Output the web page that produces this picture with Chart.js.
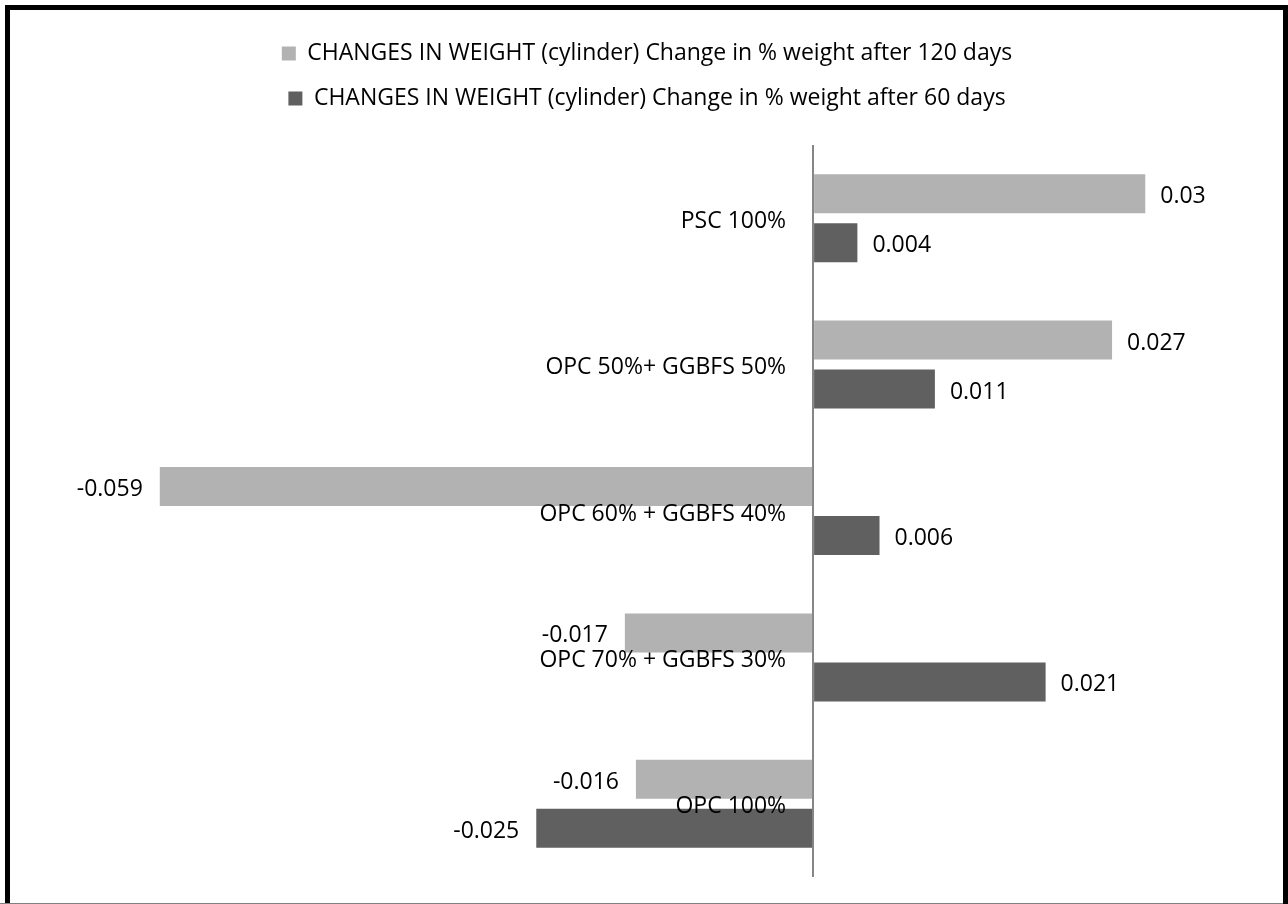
<!DOCTYPE html>
<html>
<head>
<meta charset="utf-8">
<title>Changes in weight (cylinder)</title>
<script src="https://cdn.jsdelivr.net/npm/chart.js@4/dist/chart.umd.min.js"></script>
<style>
  html, body { margin: 0; padding: 0; background: #fff; width: 1288px; height: 904px; overflow: hidden; }
  #c { position: absolute; left: 0; top: 0; }
  #frame { position: absolute; left: 5px; top: 5px; width: 1283px; height: 910px; box-sizing: border-box; border: 5px solid #000; pointer-events: none; }
  #base { position: absolute; left: 0; top: 903px; width: 1283px; height: 1px; background: #808080; }
</style>
</head>
<body>
<canvas id="c" width="1288" height="904"></canvas>
<div id="frame"></div>
<div id="base"></div>
<script>
// Mix designs, top to bottom
const categories = [
  'PSC 100%',
  'OPC 50%+ GGBFS 50%',
  'OPC 60% + GGBFS 40%',
  'OPC 70% + GGBFS 30%',
  'OPC 100%'
];

const seriesNames = [
  'CHANGES IN WEIGHT (cylinder) Change in % weight after 120 days',
  'CHANGES IN WEIGHT (cylinder) Change in % weight after 60 days'
];

// Change in % weight
const weight120 = [0.03, 0.027, -0.059, -0.017, -0.016];
const weight60 = [0.004, 0.011, 0.006, 0.021, -0.025];

// Value axis range
const axisMin = -0.07;
const axisMax = 0.04;
const axisStep = 0.01;

const FONT = '"Open Sans", "DejaVu Sans", sans-serif';
Chart.defaults.font.family = FONT;
Chart.defaults.color = '#000';

// Extra room below the legend
const legendSpacing = {
  id: 'legendSpacing',
  beforeInit(chart) {
    const fit = chart.legend.fit;
    chart.legend.fit = function () {
      fit.call(this);
      this.height = 125;
    };
  }
};

// Value labels at the bar ends and category names beside the zero line
const barAnnotations = {
  id: 'barAnnotations',
  afterDatasetsDraw(chart) {
    const ctx = chart.ctx;
    const xScale = chart.scales.x;
    const yScale = chart.scales.y;
    ctx.save();
    ctx.font = '23px ' + FONT;
    ctx.fillStyle = '#000';
    ctx.textBaseline = 'middle';

    chart.data.datasets.forEach((ds, di) => {
      const meta = chart.getDatasetMeta(di);
      meta.data.forEach((bar, i) => {
        const v = ds.data[i];
        const neg = v < 0;
        ctx.textAlign = neg ? 'right' : 'left';
        ctx.fillText(String(v), bar.x + (neg ? -17 : 15), bar.y + 3);
      });
    });

    const zeroX = xScale.getPixelForValue(0);
    ctx.textAlign = 'right';
    categories.forEach((name, i) => {
      ctx.fillText(name, zeroX - 27, yScale.getPixelForValue(i) + 3);
    });
    ctx.restore();
  }
};

new Chart(document.getElementById('c'), {
  type: 'bar',
  data: {
    labels: categories,
    datasets: [
      {
        label: seriesNames[0],
        data: weight120,
        backgroundColor: '#b2b2b2',
        borderColor: '#b2b2b2',
        borderWidth: 0
      },
      {
        label: seriesNames[1],
        data: weight60,
        backgroundColor: '#606060',
        borderColor: '#606060',
        borderWidth: 0
      }
    ]
  },
  options: {
    indexAxis: 'y',
    responsive: false,
    animation: false,
    devicePixelRatio: 1,
    categoryPercentage: 0.669,
    barPercentage: 0.796,
    layout: {
      padding: { left: 38, right: 32, top: 20, bottom: 27 }
    },
    scales: {
      x: {
        min: axisMin,
        max: axisMax,
        ticks: { display: false, stepSize: axisStep },
        border: { display: false },
        grid: {
          drawTicks: false,
          lineWidth: 2,
          color: (c) => (c.tick && Math.abs(c.tick.value) < 1e-9 ? '#868686' : 'rgba(0,0,0,0)')
        }
      },
      y: {
        display: false
      }
    },
    plugins: {
      legend: {
        position: 'top',
        align: 'center',
        labels: {
          boxWidth: 14,
          boxHeight: 14,
          padding: 22,
          color: '#000',
          font: { size: 23, family: FONT }
        }
      },
      tooltip: { enabled: false }
    }
  },
  plugins: [legendSpacing, barAnnotations]
});
</script>
</body>
</html>
